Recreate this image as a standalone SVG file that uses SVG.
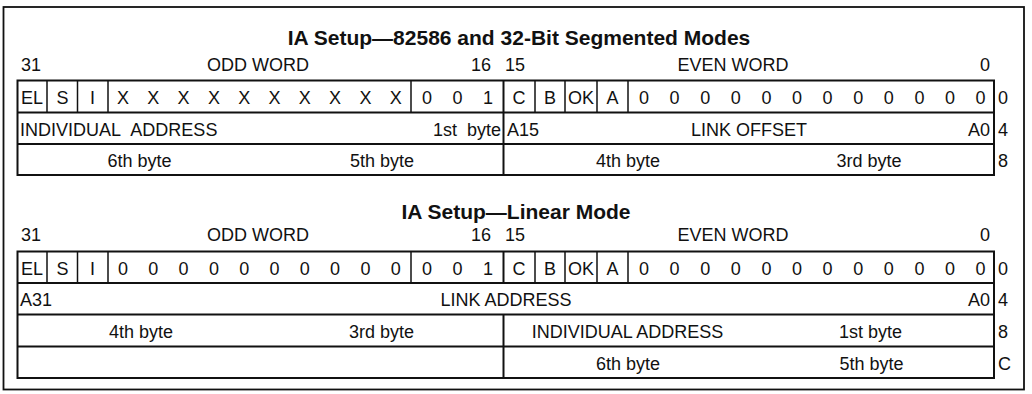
<svg xmlns="http://www.w3.org/2000/svg" width="1032" height="394" viewBox="0 0 1032 394">
<style>
.t{font-family:"Liberation Sans",Arial,sans-serif;font-size:18px;fill:#111}
.m{text-anchor:middle}
.e{text-anchor:end}
.ti{font-family:"Liberation Sans",Arial,sans-serif;font-size:21px;font-weight:bold;fill:#111;text-anchor:middle}
.b{fill:none;stroke:#111;stroke-width:2}
.d{stroke:#111;stroke-width:1.5}
.D{stroke:#111;stroke-width:2}
</style>
<rect id="frame" x="3.5" y="7" width="1020.5" height="382.5" fill="#fff" stroke="#111" stroke-width="1.8"/>

<g id="table1">
  <text class="ti" x="519" y="45">IA Setup—82586 and 32-Bit Segmented Modes</text>
  <g class="t">
    <text x="21" y="70.5">31</text>
    <text class="m" x="258" y="70.5">ODD WORD</text>
    <text x="471" y="70.5">16</text>
    <text x="505" y="70.5">15</text>
    <text class="m" x="733" y="70.5">EVEN WORD</text>
    <text class="m" x="985" y="70.5">0</text>
  </g>
  <rect class="b" x="17.5" y="80.5" width="976.5" height="94.5"/>
  <line class="D" x1="17.5" y1="112.5" x2="994" y2="112.5"/>
  <line class="D" x1="17.5" y1="144" x2="994" y2="144"/>
  <line class="D" x1="503.5" y1="80.5" x2="503.5" y2="175"/>
  <g class="d">
    <line x1="47" y1="80.5" x2="47" y2="112.5"/>
    <line x1="77.5" y1="80.5" x2="77.5" y2="112.5"/>
    <line x1="108" y1="80.5" x2="108" y2="112.5"/>
    <line x1="411" y1="80.5" x2="411" y2="112.5"/>
    <line x1="535" y1="80.5" x2="535" y2="112.5"/>
    <line x1="565" y1="80.5" x2="565" y2="112.5"/>
    <line x1="597" y1="80.5" x2="597" y2="112.5"/>
    <line x1="628" y1="80.5" x2="628" y2="112.5"/>
  </g>
  <g class="t m">
    <text x="32" y="104">EL</text>
    <text x="62.5" y="104">S</text>
    <text x="92.5" y="104">I</text>
    <text x="123" y="104">X</text>
    <text x="153.3" y="104">X</text>
    <text x="183.6" y="104">X</text>
    <text x="213.9" y="104">X</text>
    <text x="244.2" y="104">X</text>
    <text x="274.5" y="104">X</text>
    <text x="304.8" y="104">X</text>
    <text x="335.1" y="104">X</text>
    <text x="365.4" y="104">X</text>
    <text x="395.7" y="104">X</text>
    <text x="427" y="104">0</text>
    <text x="457.5" y="104">0</text>
    <text x="488" y="104">1</text>
    <text x="519" y="104">C</text>
    <text x="550" y="104">B</text>
    <text x="581" y="104">OK</text>
    <text x="612.5" y="104">A</text>
    <text x="644" y="104">0</text>
    <text x="674.6" y="104">0</text>
    <text x="705.2" y="104">0</text>
    <text x="735.8" y="104">0</text>
    <text x="766.4" y="104">0</text>
    <text x="797" y="104">0</text>
    <text x="827.6" y="104">0</text>
    <text x="858.2" y="104">0</text>
    <text x="888.8" y="104">0</text>
    <text x="919.4" y="104">0</text>
    <text x="950" y="104">0</text>
    <text x="980.6" y="104">0</text>
  </g>
  <g class="t">
    <text x="998" y="104">0</text>
    <text x="20" y="135.5" word-spacing="6">INDIVIDUAL ADDRESS</text>
    <text class="e" x="501" y="135.5" word-spacing="5">1st byte</text>
    <text x="507" y="135.5">A15</text>
    <text class="m" x="749" y="135.5">LINK OFFSET</text>
    <text class="e" x="990" y="135.5">A0</text>
    <text x="998" y="135.5">4</text>
    <text class="m" x="139.5" y="166.5">6th byte</text>
    <text class="m" x="382" y="166.5">5th byte</text>
    <text class="m" x="628" y="166.5">4th byte</text>
    <text class="m" x="869" y="166.5">3rd byte</text>
    <text x="998" y="166.5">8</text>
  </g>
</g>

<g id="table2">
  <text class="ti" x="516" y="219">IA Setup—Linear Mode</text>
  <g class="t">
    <text x="21" y="241">31</text>
    <text class="m" x="258" y="241">ODD WORD</text>
    <text x="471" y="241">16</text>
    <text x="505" y="241">15</text>
    <text class="m" x="733" y="241">EVEN WORD</text>
    <text class="m" x="985" y="241">0</text>
  </g>
  <rect class="b" x="17.5" y="251.5" width="976.5" height="126.5"/>
  <line class="D" x1="17.5" y1="283" x2="994" y2="283"/>
  <line class="D" x1="17.5" y1="314.5" x2="994" y2="314.5"/>
  <line class="D" x1="17.5" y1="346.5" x2="994" y2="346.5"/>
  <line class="D" x1="503.5" y1="251.5" x2="503.5" y2="283"/>
  <line class="D" x1="503.5" y1="314.5" x2="503.5" y2="378"/>
  <g class="d">
    <line x1="47" y1="251.5" x2="47" y2="283"/>
    <line x1="77.5" y1="251.5" x2="77.5" y2="283"/>
    <line x1="108" y1="251.5" x2="108" y2="283"/>
    <line x1="411" y1="251.5" x2="411" y2="283"/>
    <line x1="535" y1="251.5" x2="535" y2="283"/>
    <line x1="565" y1="251.5" x2="565" y2="283"/>
    <line x1="597" y1="251.5" x2="597" y2="283"/>
    <line x1="628" y1="251.5" x2="628" y2="283"/>
  </g>
  <g class="t m">
    <text x="32" y="275">EL</text>
    <text x="62.5" y="275">S</text>
    <text x="92.5" y="275">I</text>
    <text x="123" y="275">0</text>
    <text x="153.3" y="275">0</text>
    <text x="183.6" y="275">0</text>
    <text x="213.9" y="275">0</text>
    <text x="244.2" y="275">0</text>
    <text x="274.5" y="275">0</text>
    <text x="304.8" y="275">0</text>
    <text x="335.1" y="275">0</text>
    <text x="365.4" y="275">0</text>
    <text x="395.7" y="275">0</text>
    <text x="427" y="275">0</text>
    <text x="457.5" y="275">0</text>
    <text x="488" y="275">1</text>
    <text x="519" y="275">C</text>
    <text x="550" y="275">B</text>
    <text x="581" y="275">OK</text>
    <text x="612.5" y="275">A</text>
    <text x="644" y="275">0</text>
    <text x="674.6" y="275">0</text>
    <text x="705.2" y="275">0</text>
    <text x="735.8" y="275">0</text>
    <text x="766.4" y="275">0</text>
    <text x="797" y="275">0</text>
    <text x="827.6" y="275">0</text>
    <text x="858.2" y="275">0</text>
    <text x="888.8" y="275">0</text>
    <text x="919.4" y="275">0</text>
    <text x="950" y="275">0</text>
    <text x="980.6" y="275">0</text>
  </g>
  <g class="t">
    <text x="998" y="275">0</text>
    <text x="20" y="306">A31</text>
    <text class="m" x="506" y="306">LINK ADDRESS</text>
    <text class="e" x="990" y="306">A0</text>
    <text x="998" y="306">4</text>
    <text class="m" x="141" y="337.5">4th byte</text>
    <text class="m" x="381.5" y="337.5">3rd byte</text>
    <text class="m" x="627.5" y="337.5">INDIVIDUAL ADDRESS</text>
    <text class="m" x="870.5" y="337.5">1st byte</text>
    <text x="998" y="337.5">8</text>
    <text class="m" x="628" y="369.5">6th byte</text>
    <text class="m" x="871.5" y="369.5">5th byte</text>
    <text x="998" y="369.5">C</text>
  </g>
</g>
</svg>
